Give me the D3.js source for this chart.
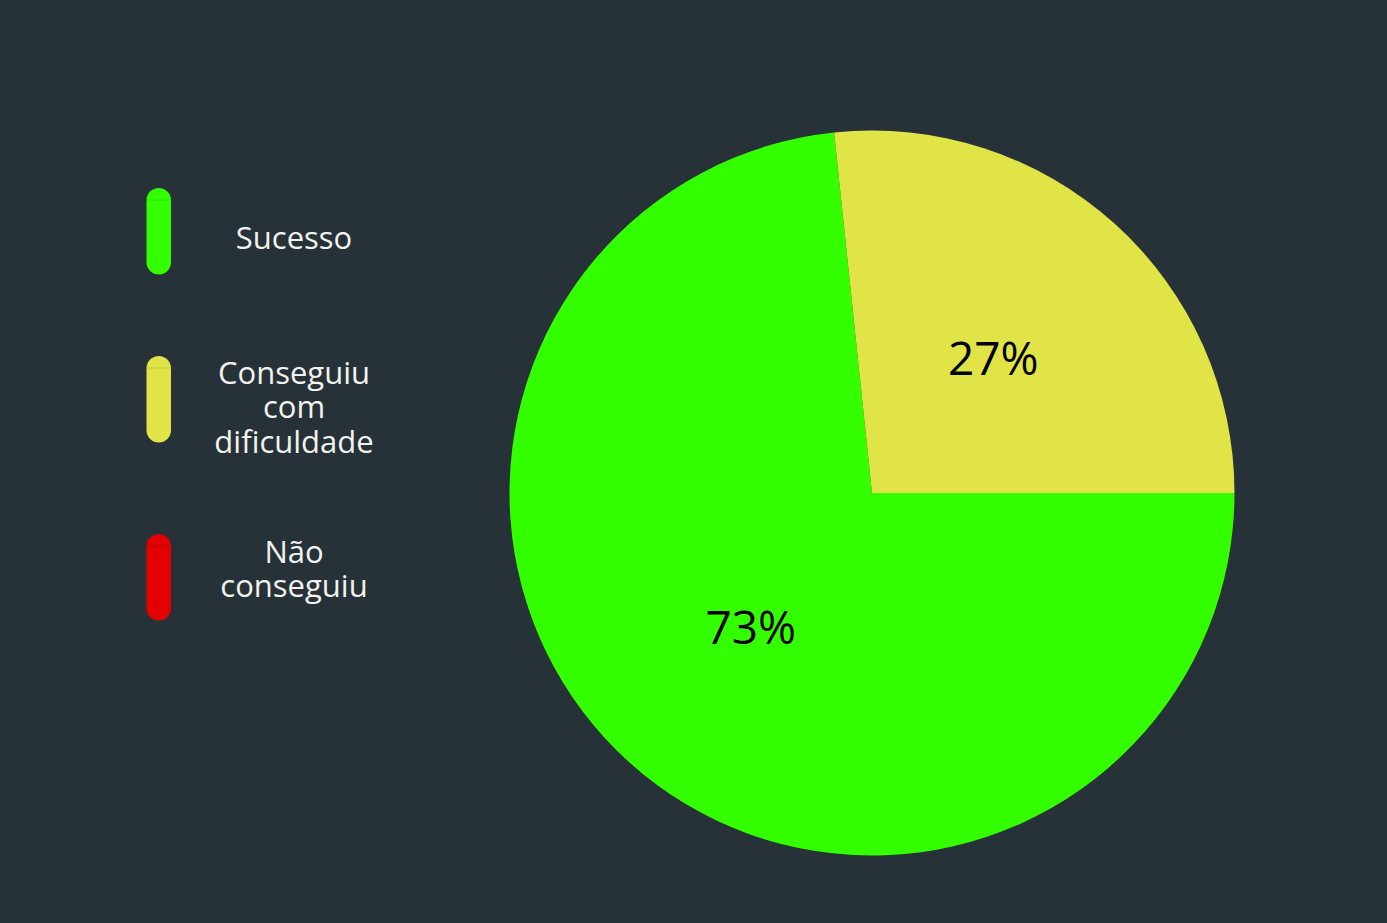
<!DOCTYPE html>
<html>
<head>
<meta charset="utf-8">
<script src="https://cdn.jsdelivr.net/npm/d3@7"></script>
<style>
  html, body { margin: 0; padding: 0; background: #263238; }
  svg { display: block; }
</style>
</head>
<body>
<svg id="chart"></svg>
<script>
// data
var categories = ["Sucesso", "Conseguiu com dificuldade", "Não conseguiu"];
var legendLines = [["Sucesso"], ["Conseguiu", "com", "dificuldade"], ["Não", "conseguiu"]];
var values = [11, 4, 0];
var colors = ["#33ff00", "#e0e447", "#e30000"];

var width = 1387, height = 923;
var svg = d3.select("#chart").attr("width", width).attr("height", height);

svg.append("rect").attr("width", width).attr("height", height).attr("fill", "#263238");

// pie
var cx = 872, cy = 493, radius = 362.5;
var total = d3.sum(values);

var pie = d3.pie()
  .sort(null)
  .startAngle(Math.PI / 2)
  .endAngle(Math.PI / 2 + 2 * Math.PI)
  .value(function(d) { return d; });

var arc = d3.arc().innerRadius(0).outerRadius(radius);
var labelArc = d3.arc().innerRadius(radius * 0.5).outerRadius(radius * 0.5);

var g = svg.append("g").attr("transform", "translate(" + cx + "," + cy + ")");
var slices = pie(values);

g.selectAll("path")
  .data(slices)
  .enter()
  .append("path")
  .attr("d", arc)
  .attr("fill", function(d, i) { return colors[i]; });

g.selectAll("text")
  .data(slices.filter(function(d) { return d.value > 0; }))
  .enter()
  .append("text")
  .attr("transform", function(d) { return "translate(" + labelArc.centroid(d) + ")"; })
  .attr("text-anchor", "middle")
  .attr("dy", "0.36em")
  .attr("font-family", "'Open Sans', sans-serif")
  .attr("font-size", 46)
  .attr("fill", "#000")
  .text(function(d) { return Math.round(d.value / total * 100) + "%"; });

// legend
var pillTop = [188, 356, 534];
var textBase = [249, 384, 563];
var legend = svg.append("g");

categories.forEach(function(c, i) {
  var item = legend.append("g");
  item.append("rect")
    .attr("x", 146.5).attr("y", pillTop[i])
    .attr("width", 24.5).attr("height", 86.5)
    .attr("rx", 12.25).attr("ry", 12.25)
    .attr("fill", colors[i]);
  item.append("line")
    .attr("x1", 146.5).attr("x2", 171)
    .attr("y1", pillTop[i] + 12).attr("y2", pillTop[i] + 12)
    .attr("stroke", "#000").attr("stroke-opacity", 0.12).attr("stroke-width", 1);
  legendLines[i].forEach(function(l, j) {
    item.append("text")
      .attr("x", 294).attr("y", textBase[i] + j * 34.3)
      .attr("text-anchor", "middle")
      .attr("font-family", "'Open Sans', sans-serif")
      .attr("font-size", 31)
      .attr("fill", "#f2f2ee")
      .text(l);
  });
});
</script>
</body>
</html>
